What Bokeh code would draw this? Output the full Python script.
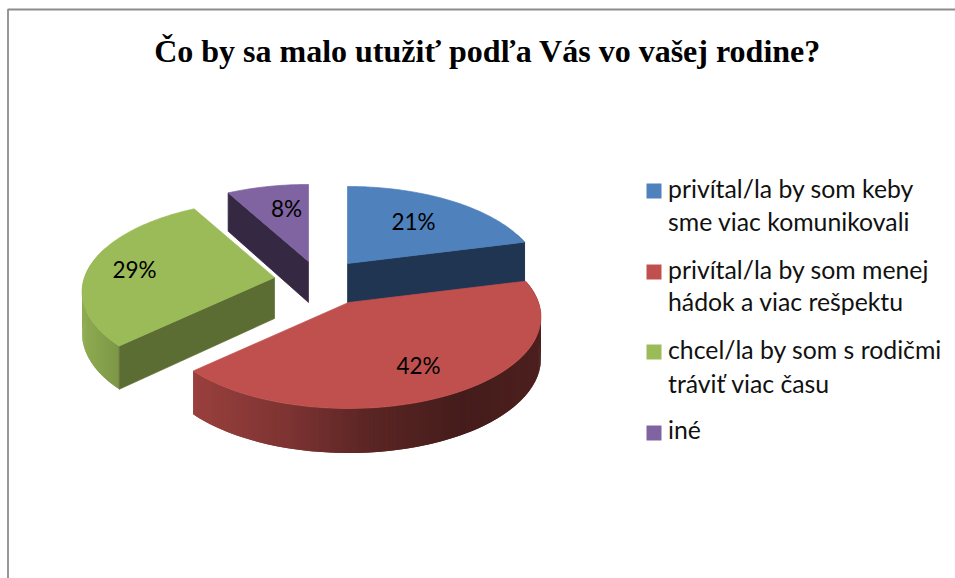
import math
from bokeh.plotting import figure
from bokeh.core.properties import value
from bokeh.embed import file_html
from bokeh.resources import INLINE

title = "Čo by sa malo utužiť podľa Vás vo vašej rodine?"
categories = [
    ["privítal/la by som keby", "sme viac komunikovali"],
    ["privítal/la by som menej", "hádok a viac rešpektu"],
    ["chcel/la by som s rodičmi", "tráviť viac času"],
    ["iné"],
]
shares = [21, 42, 29, 8]
colors = ["#4F81BD", "#C0504D", "#9BBB59", "#8064A2"]
cut_colors = ["#1F3552", "#5A2423", "#5C6D33", "#352842"]

# layout (page pixels)
apex = [(347, 263), (348, 302), (274, 277), (308, 261)]
label_pos = [(413, 220.5), (418, 364.5), (134, 268.5), (286, 207.5)]
legend_square_y = [190.5, 271.5, 351.5, 432.5]
legend_baselines = [[188, 221], [269, 301], [349, 383], [429]]
RX, RY, K = 190, 89.2, 0.158
DEPTH, DK = 41, 0.08
FONT = "Lato"

def top(c, deg):
    a = math.radians(deg)
    X, Y = math.sin(a), math.cos(a)
    w = 1 + K * Y
    return c[0] + RX * X / w, c[1] - RY * Y / w

def bottom(c, deg):
    a = math.radians(deg)
    Y = math.cos(a)
    x, y = top(c, deg)
    return x, y + DEPTH / (1 + DK * Y)

def shade(hexcol, m):
    r, g, b = (int(hexcol[i:i + 2], 16) for i in (1, 3, 5))
    return "#%02x%02x%02x" % (int(r * m), int(g * m), int(b * m))

stops = [(0, .92), (.1, .8), (.35, .65), (.55, .48), (.8, .36), (1, .40)]
def wall_mult(t):
    t = min(max(t, 0), 1)
    for (t0, m0), (t1, m1) in zip(stops, stops[1:]):
        if t <= t1:
            return m0 + (m1 - m0) * (t - t0) / (t1 - t0)
    return stops[-1][1]

p = figure(width=955, height=578, x_range=(0, 955), y_range=(578, 0),
           output_backend="svg", toolbar_location=None, min_border=0,
           outline_line_color=None, background_fill_color="white")
p.axis.visible = False
p.grid.visible = False

# chart frame
p.line([7.5, 7.5, 955], [578, 9, 9], line_color="#8c8c8c", line_width=1.8)

# slices, back to front
start_angles, acc = [], 0
for s in shares:
    start_angles.append(acc * 3.6)
    acc += s

for i in [3, 0, 2, 1]:
    c, a0, a1 = apex[i], start_angles[i], start_angles[i] + shares[i] * 3.6
    n = max(6, int(a1 - a0))
    angles = [a0 + (a1 - a0) * j / n for j in range(n + 1)]
    # outer wall: overlapping quads so no seams show, drawn from the far end
    xs, ys, fc = [], [], []
    for j in range(n):
        u, v = angles[j], angles[min(j + 2, n)]
        if math.cos(math.radians((u + angles[j + 1]) / 2)) > 0.35:
            continue
        t0, t1 = top(c, u), top(c, v)
        b0, b1 = bottom(c, u), bottom(c, v)
        xs.append([t0[0], t1[0], b1[0], b0[0]])
        ys.append([t0[1], t1[1], b1[1], b0[1]])
        fc.append(shade(colors[i], wall_mult((top(c, angles[j + 1])[0] - c[0] + RX) / (2 * RX))))
    if xs:
        p.patches(xs[::-1], ys[::-1], fill_color=fc[::-1], line_color=None)
    # visible cut faces
    cdepth = (c[0], c[1] + DEPTH)
    for ang, norm in ((a0, a0 - 90), (a1, a1 + 90)):
        if math.cos(math.radians(norm)) < -0.01:
            t, b = top(c, ang), bottom(c, ang)
            p.patch([c[0], t[0], b[0], cdepth[0]], [c[1], t[1], b[1], cdepth[1]],
                    fill_color=cut_colors[i], line_color=cut_colors[i], line_width=0.7)
    # top surface
    pts = [top(c, a) for a in angles]
    p.patch([c[0]] + [q[0] for q in pts], [c[1]] + [q[1] for q in pts],
            fill_color=colors[i], line_color=colors[i], line_width=0.7)

# percent labels
p.text([q[0] for q in label_pos], [q[1] for q in label_pos], text=[f"{s}%" for s in shares],
       text_font=value(FONT), text_font_size="22.5px", text_color="black",
       text_align="center", text_baseline="middle")

# title
p.text([487], [50], text=[title], text_font=value("Liberation Serif"), text_font_style="bold",
       text_font_size="32px", text_color="black", text_align="center", text_baseline="alphabetic")

# legend
p.scatter([653.5] * 4, legend_square_y, marker="square", size=15, fill_color=colors, line_color=None)
for lines, bases in zip(categories, legend_baselines):
    p.text([667.5] * len(lines), bases, text=lines, text_font=value(FONT), text_font_size="24.8px",
           text_color="#111111", text_align="left", text_baseline="alphabetic")

open("out.html", "w").write(file_html(p, INLINE))
